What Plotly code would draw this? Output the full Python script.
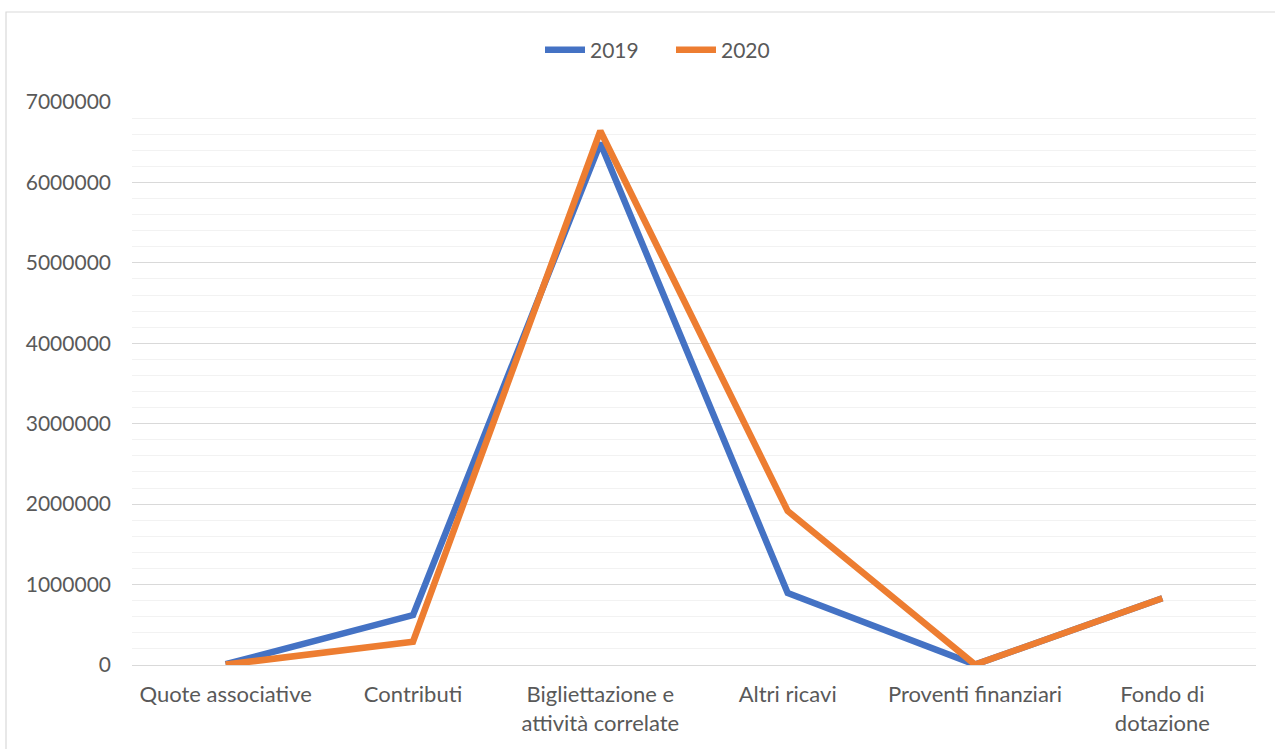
import plotly.graph_objects as go

categories = ["Quote associative", "Contributi", "Bigliettazione e<br>attività correlate",
              "Altri ricavi", "Proventi finanziari", "Fondo di<br>dotazione"]
values_2019 = [10000, 620000, 6490000, 895000, 5000, 830000]
values_2020 = [5000, 290000, 6640000, 1915000, 5000, 830000]
y_ticks = [0, 1000000, 2000000, 3000000, 4000000, 5000000, 6000000, 7000000]

W, H = 1275, 749
L, R, T, B = 132, 19, 102, 84
pw, ph = W - L - R, H - T - B

def px_x(p):
    return (p - L) / pw

def px_y(p):
    return (H - B - p) / ph

fig = go.Figure()
fig.add_trace(go.Scatter(x=categories, y=values_2019, mode="lines", name="2019",
                         line=dict(color="#4472C4", width=6.5)))
fig.add_trace(go.Scatter(x=categories, y=values_2020, mode="lines", name="2020",
                         line=dict(color="#ED7D31", width=6.5)))

font_family = "Lato, 'Open Sans', sans-serif"

fig.update_layout(
    width=W, height=H,
    margin=dict(l=L, r=R, t=T, b=B),
    paper_bgcolor="white", plot_bgcolor="white",
    font=dict(family=font_family, size=20, color="#595959"),
    showlegend=True,
    legend=dict(orientation="h", x=px_x(540), xanchor="left", y=px_y(50), yanchor="middle",
                font=dict(size=21, color="#595959"), entrywidth=76, entrywidthmode="pixels",
                itemwidth=40, bgcolor="rgba(0,0,0,0)"),
    xaxis=dict(type="category", range=[-0.5, 5.5], showgrid=False, zeroline=False,
               showline=False, ticks="", ticklabelstandoff=14,
               tickfont=dict(size=22, color="#595959")),
    yaxis=dict(range=[0, 7000000], tickvals=y_ticks, ticktext=[str(v) for v in y_ticks],
               showgrid=True, gridcolor="#D9D9D9", gridwidth=1.3,
               zeroline=True, zerolinecolor="#D9D9D9", zerolinewidth=1.3,
               showline=False, ticks="", ticklabelstandoff=20,
               tickfont=dict(size=21, color="#595959"),
               minor=dict(dtick=200000, tick0=0, showgrid=True, gridcolor="#F2F2F2", gridwidth=1.3)),
    shapes=[dict(type="rect", xref="paper", yref="paper",
                 x0=px_x(6), x1=px_x(1285), y0=px_y(760), y1=px_y(12),
                 line=dict(color="#D9D9D9", width=1.2), fillcolor="rgba(0,0,0,0)", layer="below")],
)

fig.write_html("out.html")
